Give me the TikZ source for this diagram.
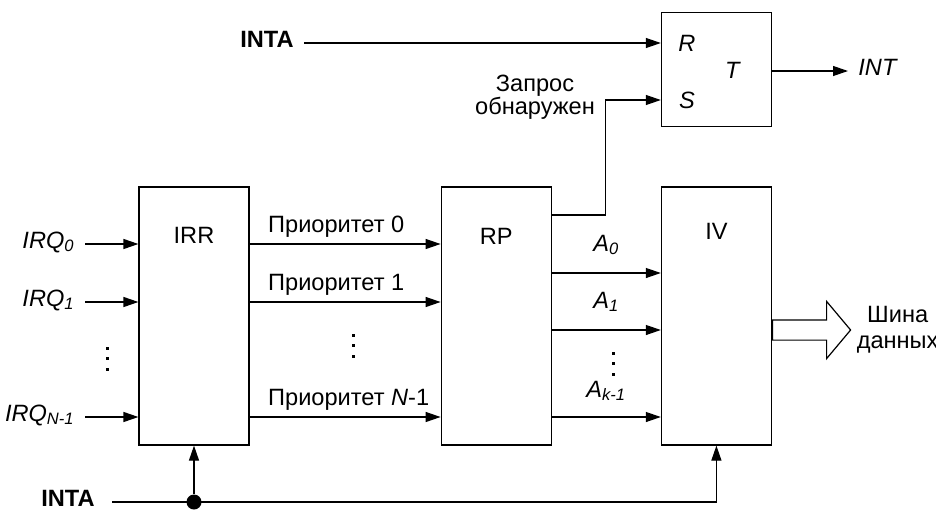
\documentclass[tikz,border=0pt]{standalone}
\usepackage{fontspec}
\setmainfont{Liberation Sans}
\usetikzlibrary{arrows.meta,positioning,shapes.arrows}

\begin{document}
\begin{tikzpicture}[
    x=0.5pt, y=-0.5pt,
    font=\fontsize{11.8}{13}\selectfont,
    blk/.style={draw, line width=0.6pt, minimum width=55pt, minimum height=129pt, inner sep=0pt},
    io/.style={text height=8pt, text depth=4pt, inner xsep=5pt, inner ysep=0pt},
    tag/.style={inner sep=0pt},
    arr/.style={-{Triangle[length=7.5pt, width=5pt]}, line width=0.6pt},
    wire/.style={line width=0.6pt},
  ]
  \useasboundingbox (0,0) rectangle (936,509);

  % --- blocks ---
  \node[blk] (irr) at (194,316) {};
  \node[blk, right=95.5pt of irr] (rp) {};
  \node[blk, right=54.5pt of rp] (iv) {};
  \node[blk, minimum height=57pt, above=29.5pt of iv] (trig) {};

  \node (irrname) at ([yshift=-24.5pt]irr.north) {IRR};
  \node (rpname) at ([yshift=-25pt]rp.north) {RP};
  \node (ivname) at ([yshift=-22.5pt]iv.north) {IV};
  \node (rname) at (687,43) {\textit{R}};
  \node (sname) at (687,100) {\textit{S}};
  \node (tname) at (733,70) {\textit{T}};

  % --- request inputs ---
  \node[io, anchor=east] (irq0) at (85,244) {\textit{IRQ}\textsubscript{\textit{0}}};
  \node[io, anchor=east] (irq1) at (85,302) {\textit{IRQ}\textsubscript{\textit{1}}};
  \node[io, anchor=east] (irqn) at (85,417) {\textit{IRQ}\textsubscript{\textit{N-1}}};
  \draw[arr] (irq0) -- (irq0 -| irr.west);
  \draw[arr] (irq1) -- (irq1 -| irr.west);
  \draw[arr] (irqn) -- (irqn -| irr.west);

  % --- priorities ---
  \draw[arr] (irq0 -| irr.east) -- node[tag, pos=0, anchor=base west, xshift=9pt, yshift=6pt] (prio0) {Приоритет 0} (irq0 -| rp.west);
  \draw[arr] (irq1 -| irr.east) -- node[tag, pos=0, anchor=base west, xshift=9pt, yshift=6pt] (prio1) {Приоритет 1} (irq1 -| rp.west);
  \draw[arr] (irqn -| irr.east) -- node[tag, pos=0, anchor=base west, xshift=9pt, yshift=6pt] (prion) {Приоритет \textit{N}-1} (irqn -| rp.west);

  % --- vector address lines ---
  \draw[arr] (rp.east |- 0,273) -- node[tag, anchor=base, yshift=11pt] (a0) {\textit{A}\textsubscript{\textit{0}}} (iv.west |- 0,273);
  \draw[arr] (rp.east |- 0,330) -- node[tag, anchor=base, yshift=11pt] (a1) {\textit{A}\textsubscript{\textit{1}}} (iv.west |- 0,330);
  \draw[arr] (rp.east |- 0,417) -- node[tag, anchor=base, yshift=10pt] (ak) {\textit{A}\textsubscript{\textit{k-1}}} (iv.west |- 0,417);

  % dots
  \foreach \px/\py in {107/348, 353/335, 613/353}
    \foreach \k in {0,1,2}
      \fill ({\px-1.5},{\py+\k*10.5-1.5}) rectangle ++(3,3);

  % --- trigger ---
  \node[io, anchor=east] (intatop) at (304,43) {\bfseries INTA};
  \draw[arr] (intatop) -- (intatop -| trig.west);
  \node[align=center] (found) at (535,97) {Запрос\\[-1.5pt]обнаружен};
  \draw[arr] (rp.east |- 0,215) -- ++(54,0) |- (sname -| trig.west);
  \node[io, anchor=west] (intout) at (848,71) {\textit{INT}};
  \draw[arr] (trig.east |- intout) -- (intout);

  % --- bottom INTA ---
  \node[io, anchor=east, inner xsep=8.5pt] (intabot) at (112,502) {\bfseries INTA};
  \node[circle, fill, inner sep=0pt, minimum size=7.5pt] (junc) at (irr.south |- intabot) {};
  \draw[arr] (intabot) -| (iv.south);
  \draw[arr] (junc) -- (irr.south);

  % --- data bus ---
  \node[single arrow, draw, line width=0.6pt, inner xsep=0pt, inner ysep=4.75pt, minimum width=28pt,
        single arrow head extend=9.25pt, single arrow tip angle=100,
        minimum height=39pt, anchor=tail] (bus) at (iv.east |- 0,330) {};
  \node[align=center, inner sep=0pt, right=2.5pt of bus.tip] (buslbl) {Шина\\данных};
\end{tikzpicture}
\end{document}
